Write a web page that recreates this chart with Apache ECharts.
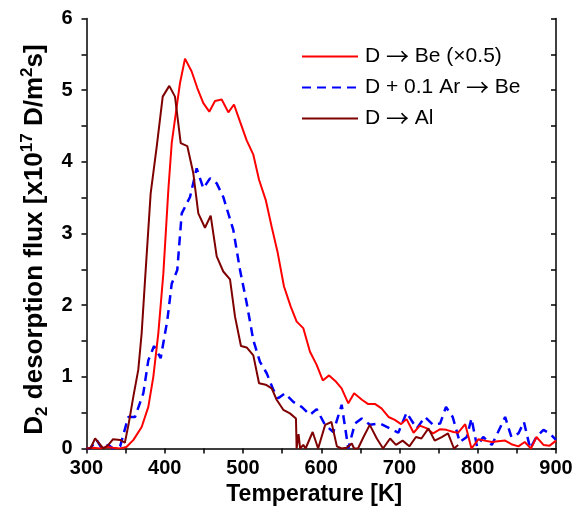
<!DOCTYPE html>
<html><head><meta charset="utf-8">
<script src="https://cdn.jsdelivr.net/npm/echarts@6/dist/echarts.min.js"></script>
<style>html,body{margin:0;padding:0;background:#fff}#c{width:579px;height:522px}</style>
</head><body><div id="c"></div>
<script>
// Temperature [K] and flux [x10^17 D/m^2 s]
const beT = [300,309,317,326,334,343,351,360,370.5,379,385.4,391.8,398.2,404.6,408.9,415.3,419.5,425.9,434.4,441.6,449.3,456.9,464.2,472.8,481.3,488.5,496.2,504.7,513.2,520.5,529,536.7,544,552.4,561,568.6,577,585.6,594,602,610,619,626,634.6,642,652,660,669,677,686,694,702,709,718,726,735,743,752,760,769,775,784,792,801,809,818,826,835,843,852,860,868,875,884,892,900];
const beV = [0,0.01,0,0.02,0.01,0,0.02,0.12,0.30,0.58,1.0,1.61,2.44,3.61,4.26,4.77,5.10,5.44,5.26,5.03,4.82,4.70,4.85,4.87,4.69,4.80,4.56,4.30,4.10,3.75,3.47,3.09,2.75,2.26,1.98,1.77,1.68,1.35,1.17,0.95,1.02,0.93,0.84,0.63,0.77,0.68,0.62,0.62,0.56,0.44,0.40,0.34,0.41,0.22,0.32,0.28,0.21,0.27,0.26,0.23,0.22,0.34,0.0,0.13,0.11,0.09,0.10,0.11,0.06,0.03,0.09,0.0,0.16,0.05,0.04,0.11];

const arT = [300,304.5,313,319.4,328,334,343,353.4,362,372.6,379,386.3,394.8,403.3,408.9,416,421.7,432.3,440.8,449.3,457.8,466.4,474.8,487.6,496.2,504.7,513.2,521.7,530.3,538.7,545,553.7,564.3,575,585.6,594.2,604.8,615.4,626.1,634.6,643.1,651.7,662.3,675,688,698.5,709,722,732.6,743,752,759.4,768,777,786,792,799,807,818,826,835,843,852,859,867,875,884,892,900];
const arV = [0,0,0.12,0,0.05,0,0.03,0.44,0.44,0.77,1.23,1.43,1.26,1.79,2.30,2.49,3.28,3.51,3.91,3.63,3.77,3.70,3.51,3.05,2.49,2.03,1.51,1.21,1.05,0.82,0.70,0.77,0.65,0.58,0.47,0.55,0.33,0.23,0.61,0,0.35,0.42,0.33,0.35,0.28,0.22,0.50,0.28,0.44,0.33,0.35,0.58,0.44,0.09,0.16,0.42,0.03,0.16,0.05,0.23,0.44,0.16,0.21,0.37,0,0.16,0.26,0.21,0.12];

const alT = [300,305,311,321.5,328,334,343,349,354,359.8,366.2,370.5,374.8,382,389.7,397.4,405.8,413.1,420.4,428.8,436.5,442.9,451.4,458.7,466.4,474.8,483.4,489.8,497.4,504.7,513.2,520.5,529,536.7,543,551.5,560,567.7,568.5,571,573,577,580,589,596,605,613,620,626,632.5,639,642,647,654,662,671,679,688,695.5,704,712.6,721,728,737,745,754,762,769.6,775];
const alV = [0,0,0.14,0,0.05,0.13,0.12,0.08,0.35,0.72,1.10,1.61,2.35,3.56,4.21,4.91,5.06,4.91,4.26,4.22,3.84,3.28,3.08,3.25,2.68,2.47,2.36,1.84,1.43,1.41,1.30,0.91,0.89,0.84,0.68,0.54,0.49,0.42,0,0.2,0,0.05,0,0.23,0,0.33,0.37,0.03,0,0.01,0.07,0,0,0.16,0.33,0.14,0,0.14,0.05,0.11,0.03,0.16,0.14,0.28,0.11,0.16,0.21,0,0.05];

const xTicks = [300,400,500,600,700,800,900];
const yTicks = [0,1,2,3,4,5,6];
const names = ['D \u2192 Be (\u00d70.5)', 'D + 0.1 Ar \u2192 Be', 'D \u2192 Al'];

const zip = (a,b) => a.map((t,i) => [t, b[i]]);
const FONT = 'Liberation Sans, Arial, sans-serif';

const chart = echarts.init(document.getElementById('c'), null, {renderer:'canvas'});
const axisLine = {show:true, lineStyle:{color:'#000', width:1.5}};
chart.setOption({
  animation:false,
  backgroundColor:'#fff',
  grid:{left:86.5, right:23, top:18.5, bottom:73.5, containLabel:false},
  legend:{
    orient:'vertical', left:301, top:45, padding:0,
    itemWidth:56, itemHeight:14, itemGap:8,
    itemStyle:{opacity:0},
    formatter: n => n.split('\u2192').map(s => '{a|' + s + '}').join('{ar|\u2192}'),
    textStyle:{fontFamily:FONT, fontSize:21, color:'#000', lineHeight:22, padding:[0,0,0,2],
      rich:{
        a:{fontFamily:FONT, fontSize:21, color:'#000', lineHeight:22},
        ar:{fontFamily:'Noto Sans CJK SC', fontSize:23, color:'#000', lineHeight:22}
      }},
    data:names
  },
  xAxis:{
    type:'value', min:300, max:900, interval:50,
    axisLine:axisLine,
    axisTick:{show:true, inside:false, length:5, lineStyle:{color:'#000', width:1.5}},
    axisLabel:{margin:10, fontFamily:FONT, fontSize:20, fontWeight:'bold', color:'#000',
      formatter:v => xTicks.includes(v) ? String(v) : ''},
    splitLine:{show:false},
    name:'Temperature [K]', nameLocation:'middle', nameGap:35,
    nameTextStyle:{fontFamily:FONT, fontSize:23, fontWeight:'bold', color:'#000', padding:[0,14,0,0]}
  },
  yAxis:[{
    type:'value', min:0, max:6, interval:0.5, position:'left',
    axisLine:axisLine,
    axisTick:{show:true, inside:false, length:5, lineStyle:{color:'#000', width:1.5}},
    axisLabel:{margin:14, fontFamily:FONT, fontSize:20, fontWeight:'bold', color:'#000',
      formatter:v => yTicks.includes(v) ? String(v) : ''},
    splitLine:{show:false},
    name:'{a|D}{sub|2}{a| desorption flux [x10}{sup|17}{a| D/m}{sup|2}{a|s]}',
    nameLocation:'middle', nameGap:34,
    nameTextStyle:{
      padding:[0,12,0,0],
      rich:{
        a:{fontFamily:FONT, fontSize:26, fontWeight:'bold', color:'#000', lineHeight:32},
        sub:{fontFamily:FONT, fontSize:17, fontWeight:'bold', color:'#000', lineHeight:16, verticalAlign:'bottom'},
        sup:{fontFamily:FONT, fontSize:17, fontWeight:'bold', color:'#000', lineHeight:16, verticalAlign:'top'}
      }
    }
  },{
    type:'value', min:0, max:6, interval:0.5, position:'right',
    axisLine:axisLine,
    axisTick:{show:true, inside:true, length:5, lineStyle:{color:'#000', width:1.5}},
    axisLabel:{show:false}, splitLine:{show:false}
  }],
  series:[
    {name:names[0], type:'line', data:zip(beT,beV), symbol:'none', clip:true,
     lineStyle:{color:'#ff0000', width:2}, itemStyle:{color:'#ff0000'}, z:3},
    {name:names[1], type:'line', data:zip(arT,arV), symbol:'none', clip:true,
     lineStyle:{color:'#0000ff', width:2.5, type:[9,6]}, itemStyle:{color:'#0000ff'}, z:2},
    {name:names[2], type:'line', data:zip(alT,alV), symbol:'none', clip:true,
     lineStyle:{color:'#7f0000', width:2}, itemStyle:{color:'#7f0000'}, z:4}
  ]
});
</script></body></html>
